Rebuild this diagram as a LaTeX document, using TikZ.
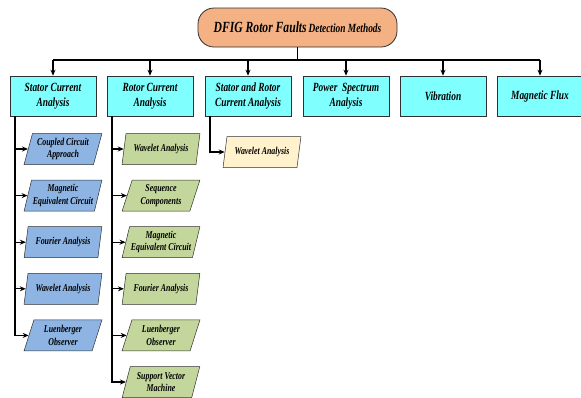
\documentclass[tikz,border=0pt]{standalone}
\usepackage{fontspec}
\setmainfont{Liberation Serif}[FakeStretch=0.75]
\usetikzlibrary{shapes.geometric,arrows.meta}
\definecolor{peach}{HTML}{F4B183}
\definecolor{cyanbox}{HTML}{80FFFF}
\definecolor{bluebox}{HTML}{8DB4E2}
\definecolor{greenbox}{HTML}{C3D69B}
\definecolor{yellowbox}{HTML}{FFF2CC}
\definecolor{edge}{HTML}{303030}
\tikzset{
  rootbox/.style={draw=edge, fill=peach, rounded corners=16pt, minimum width=199pt, minimum height=39pt, line width=0.8pt, font=\bfseries\itshape},
  topbox/.style={draw=edge, fill=cyanbox, minimum width=86pt, minimum height=40pt, align=center, font=\fontsize{12.5}{15}\selectfont\bfseries\itshape, line width=0.6pt, inner sep=1pt},
  para/.style={trapezium, trapezium left angle=72, trapezium right angle=108, trapezium stretches=true, draw=edge, minimum width=78pt, minimum height=31pt, align=center, font=\fontsize{10.5}{12.5}\selectfont\bfseries\itshape, line width=0.5pt, inner sep=0pt},
  conn/.style={line width=1.3pt, black},
  arr/.style={conn, -{Stealth[length=6pt,width=5pt]}}
}
\begin{document}
\begin{tikzpicture}[x=1pt,y=-1pt]
\useasboundingbox (0,0) rectangle (581,397);
\node[rootbox] (root) at (297.5,27.5) {{\fontsize{15.5}{17}\selectfont DFIG Rotor Faults} {\fontsize{12.5}{14}\selectfont Detection Methods}};
\node[topbox] (s) at (53,96) {Stator Current\\Analysis};
\node[topbox] (r) at (150,96) {Rotor Current\\Analysis};
\node[topbox] (sr) at (248,96) {Stator and Rotor\\Current Analysis};
\node[topbox] (ps) at (346,96) {Power\ \ Spectrum\\Analysis};
\node[topbox] (vb) at (443,96) {Vibration};
\node[topbox] (mf) at (540,96) {Magnetic Flux};
\coordinate (busL) at (53,60);
\coordinate (busR) at (540,60);
\draw[conn] (root.south) -- (root.south |- busL);
\draw[conn] (busL) -- (busR);
\foreach \n in {s,r,sr,ps,vb,mf} \draw[arr] (\n.north |- busL) -- (\n.north);
% column 1
\node[para, fill=bluebox] (s1) at (63,149) {Coupled Circuit\\Approach};
\node[para, fill=bluebox] (s2) at (63,195.6) {Magnetic\\Equivalent Circuit};
\node[para, fill=bluebox] (s3) at (63,242.2) {Fourier Analysis};
\node[para, fill=bluebox] (s4) at (63,288.8) {Wavelet Analysis};
\node[para, fill=bluebox] (s5) at (63,335.4) {Luenberger\\Observer};
\coordinate (ts) at (15,116);
\foreach \n in {s1,s2,s3,s4,s5} \draw[arr] (ts) |- (\n.west);
% column 2
\node[para, fill=greenbox] (r1) at (161,149) {Wavelet Analysis};
\node[para, fill=greenbox] (r2) at (161,195.6) {Sequence\\Components};
\node[para, fill=greenbox] (r3) at (161,242.2) {Magnetic\\Equivalent Circuit};
\node[para, fill=greenbox] (r4) at (161,288.8) {Fourier Analysis};
\node[para, fill=greenbox] (r5) at (161,335.4) {Luenberger\\Observer};
\node[para, fill=greenbox] (r6) at (161,382) {Support Vector\\Machine};
\coordinate (tr) at (112,116);
\foreach \n in {r1,r2,r3,r4,r5,r6} \draw[arr] (tr) |- (\n.west);
% column 3
\node[para, fill=yellowbox] (w) at (262,152) {Wavelet Analysis};
\coordinate (tsr) at (210,116);
\draw[arr] (tsr) |- (w.west);
\end{tikzpicture}
\end{document}
